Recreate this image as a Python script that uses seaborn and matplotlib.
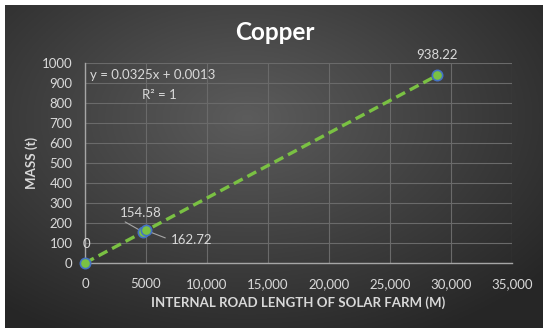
import numpy as np
import matplotlib
matplotlib.use("Agg")
import matplotlib.pyplot as plt
import seaborn as sns
import pandas as pd

# data
road_length = [0, 4756, 5007, 28868]
mass = [0.0, 154.58, 162.72, 938.22]
point_labels = ["0", "154.58", "162.72", "938.22"]
x_ticks = [0, 5000, 10000, 15000, 20000, 25000, 30000, 35000]
x_ticklabels = ["0", "5000", "10,000", "15,000", "20,000", "25,000", "30,000", "35,000"]
y_ticks = list(range(0, 1001, 100))
title = "Copper"
xlabel = "INTERNAL ROAD LENGTH OF SOLAR FARM (M)"
ylabel = "MASS (t)"
equation = "y = 0.0325x + 0.0013"
r2_text = "R² = 1"

df = pd.DataFrame({"x": road_length, "y": mass})

sns.set_theme(style="dark")
plt.rcParams["font.family"] = ["Lato", "DejaVu Sans"]

W, H = 550, 334
fig = plt.figure(figsize=(W / 100, H / 100), dpi=100)
fig.patch.set_facecolor("white")

# background panel with radial gradient
bg = fig.add_axes([5 / W, 1 - 328 / H, (543 - 5) / W, (328 - 5) / H])
bg.set_axis_off()
yy, xx = np.mgrid[0:1:200j, 0:1:300j]
d = np.sqrt(((xx - 0.45) / 0.75) ** 2 + ((yy - 0.35) / 0.8) ** 2)
val = np.clip(0.36 - 0.22 * d, 0.15, 0.40)
bg.imshow(np.dstack([val, val, val]), aspect="auto", extent=[0, 1, 1, 0])

text_c = "#d9d9d9"
grid_c = "#6a6a6a"

ax = fig.add_axes([85 / W, 1 - 263 / H, (512 - 85) / W, 200 / H])
ax.set_facecolor("none")

sns.lineplot(data=df, x="x", y="y", ax=ax, color="#7ac143", lw=2.4,
             linestyle=(0, (3, 1.6)), zorder=3)
sns.scatterplot(data=df, x="x", y="y", ax=ax, s=55, color="#7ac143",
                edgecolor="#4472c4", linewidth=1.2, zorder=4)
for c in ax.collections:
    c.set_clip_on(False)

ax.set_xlim(0, 35000)
ax.set_ylim(0, 1000)
ax.set_xticks(x_ticks)
ax.set_xticklabels(x_ticklabels)
ax.set_yticks(y_ticks)
ax.grid(True, color=grid_c, lw=0.8)
ax.tick_params(colors=text_c, labelsize=9.5, length=0)
ax.tick_params(axis="x", pad=11)
ax.tick_params(axis="y", pad=9)
for s in ["top", "right"]:
    ax.spines[s].set_visible(False)
for s in ["left", "bottom"]:
    ax.spines[s].set_color("#a6a6a6")
    ax.spines[s].set_linewidth(1)
ax.set_xlabel(xlabel, color=text_c, fontsize=9.5, fontweight="bold", labelpad=4)
ax.set_ylabel(ylabel, color=text_c, fontsize=9.5, fontweight="bold", labelpad=3)

fig.text(275 / W, 1 - 32 / H, title, color="white", fontsize=17.5, fontweight="bold",
         ha="center", va="center")

ax.text(0.012, 0.94, equation, transform=ax.transAxes, color=text_c, fontsize=9.5,
        ha="left", va="center")
ax.text(0.175, 0.84, r2_text, transform=ax.transAxes, color=text_c, fontsize=9.5,
        ha="center", va="center")

lab_kw = dict(color=text_c, fontsize=9.5, textcoords="offset points")
ax.annotate(point_labels[0], (road_length[0], mass[0]), xytext=(1, 14),
            ha="center", va="center", **lab_kw)
ax.annotate(point_labels[1], (road_length[1], mass[1]), xytext=(-2, 14),
            ha="center", va="center",
            arrowprops=dict(arrowstyle="-", color="#a6a6a6", lw=0.8,
                            relpos=(0, 0), shrinkA=0, shrinkB=2), **lab_kw)
ax.annotate(point_labels[2], (road_length[2], mass[2]), xytext=(33, -7),
            ha="center", va="center",
            arrowprops=dict(arrowstyle="-", color="#a6a6a6", lw=0.8,
                            relpos=(0, 0.5), shrinkA=2, shrinkB=2), **lab_kw)
ax.annotate(point_labels[3], (road_length[3], mass[3]), xytext=(0, 15),
            ha="center", va="center", **lab_kw)

fig.savefig("out.png", dpi=100, facecolor=fig.get_facecolor())
